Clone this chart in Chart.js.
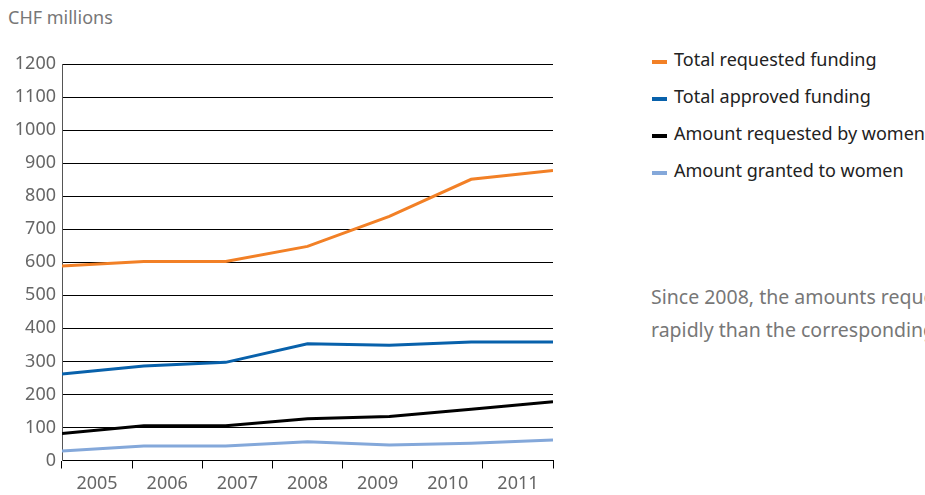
<!DOCTYPE html>
<html>
<head>
<meta charset="utf-8">
<script src="https://cdn.jsdelivr.net/npm/chart.js@4"></script>
<style>
  html, body { margin: 0; padding: 0; background: #fff; }
  body { width: 925px; height: 495px; overflow: hidden; position: relative; font-family: "Noto Sans", sans-serif; }
  #unit { position: absolute; left: 8px; top: 5px; font-size: 18px; color: #777; }
  #wrap { position: absolute; left: 0; top: 0; width: 600px; height: 495px; }
  #legend { position: absolute; left: 652px; top: 47px; }
  .item { height: 37px; display: flex; align-items: flex-start; font-size: 18px; color: #222; white-space: nowrap; }
  .item span.sw { display: inline-block; width: 15px; height: 4px; margin-right: 7px; margin-top: 13px; }
  #note { position: absolute; left: 651px; top: 280px; font-size: 19.5px; line-height: 33px; color: #777; white-space: nowrap; }
</style>
</head>
<body>
<div id="unit">CHF millions</div>
<div id="wrap"><canvas id="grafico"></canvas></div>
<div id="legend"></div>
<div id="note">Since 2008, the amounts requested<br>rapidly than the corresponding</div>
<script>
const anos = ["2005", "2006", "2007", "2008", "2009", "2010", "2011"];
const totalPedido = [589, 602, 602, 648, 739, 851, 878];
const totalAprovado = [262, 286, 297, 353, 349, 359, 359];
const pedidoMulheres = [82, 105, 105, 126, 133, 155, 178];
const concedidoMulheres = [29, 44, 44, 57, 47, 52, 62];
const ticksY = [0, 100, 200, 300, 400, 500, 600, 700, 800, 900, 1000, 1100, 1200];

const series = [
  { label: "Total requested funding", data: totalPedido, cor: "#f28026" },
  { label: "Total approved funding", data: totalAprovado, cor: "#0861ab" },
  { label: "Amount requested by women", data: pedidoMulheres, cor: "#000000" },
  { label: "Amount granted to women", data: concedidoMulheres, cor: "#84a8da" },
];

// legenda em html
document.getElementById("legend").innerHTML = series
  .map((s) => `<div class="item"><span class="sw" style="background:${s.cor}"></span>${s.label}</div>`)
  .join("");

const ctx = document.getElementById("grafico");

new Chart(ctx, {
  type: "line",
  data: {
    datasets: series.map((s) => ({
      label: s.label,
      data: s.data.map((v, i) => ({ x: i, y: v })),
      borderColor: s.cor,
      backgroundColor: s.cor,
      borderWidth: 3,
      pointRadius: 0,
      tension: 0,
      xAxisID: "x",
    })),
  },
  options: {
    responsive: true,
    maintainAspectRatio: false,
    animation: false,
    layout: { padding: { top: 64, right: 47, left: 0, bottom: 0 } },
    plugins: { legend: { display: false }, tooltip: { enabled: false } },
    scales: {
      x: { type: "linear", min: 0, max: anos.length - 1, display: false },
      anos: {
        type: "category",
        position: "bottom",
        labels: anos,
        offset: true,
        grid: { offset: true, drawOnChartArea: false, tickLength: 8, color: "#000", lineWidth: 1 },
        border: { display: true, color: "#000" },
        ticks: { color: "#666", font: { family: "Noto Sans", size: 18 }, padding: 5, maxRotation: 0 },
        afterFit: (scale) => { scale.height = 34.5; },
      },
      y: {
        min: 0,
        max: 1200,
        afterBuildTicks: (scale) => { scale.ticks = ticksY.map((v) => ({ value: v })); },
        grid: { color: "#000", lineWidth: 1, drawTicks: false },
        border: { color: "#555" },
        ticks: { color: "#666", font: { family: "Noto Sans", size: 18 }, padding: 6, callback: (v) => String(v) },
        afterFit: (scale) => { scale.width = 62; },
      },
    },
  },
});
</script>
</body>
</html>
